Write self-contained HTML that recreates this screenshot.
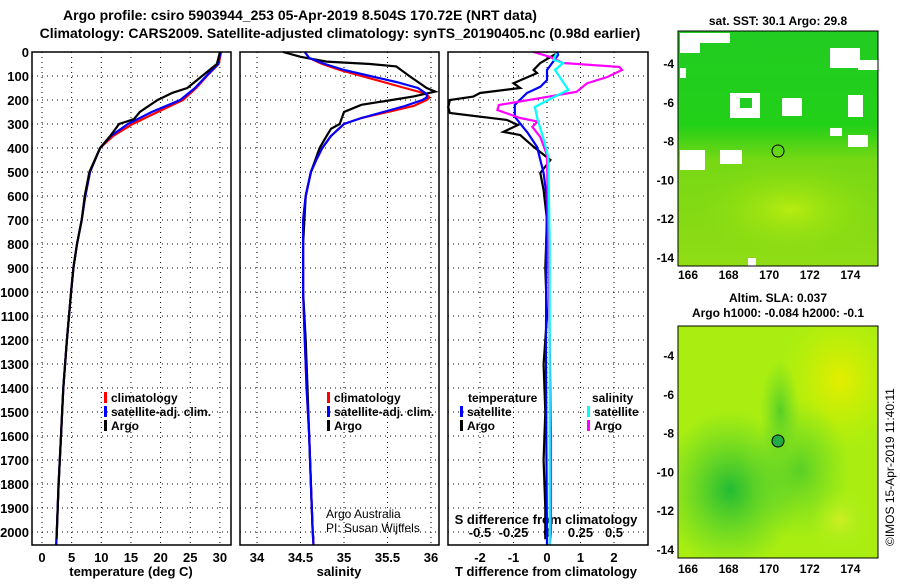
<!DOCTYPE html>
<html><head><meta charset="utf-8"><style>
body{margin:0;background:#fff;}
svg text{font-family:"Liberation Sans",sans-serif;font-weight:bold;fill:#000;}
</style></head><body>
<svg id="c" width="900" height="580" xmlns="http://www.w3.org/2000/svg">
<defs>
<clipPath id="clip1"><rect x="678" y="31" width="200" height="235"/></clipPath>
<clipPath id="clip2"><rect x="678" y="326" width="200" height="232"/></clipPath>
<radialGradient id="sst1" cx="0.5" cy="0.5" r="0.5"><stop offset="0" stop-color="#b8ec10"/><stop offset="1" stop-color="#88dd10" stop-opacity="0"/></radialGradient>
<linearGradient id="sstbg" x1="0" y1="0" x2="0" y2="1"><stop offset="0" stop-color="#22cc22"/><stop offset="0.4" stop-color="#22d018"/><stop offset="0.55" stop-color="#77d814"/><stop offset="1" stop-color="#90dc15"/></linearGradient>
<radialGradient id="sla1" cx="0.5" cy="0.5" r="0.5"><stop offset="0" stop-color="#e4ee00"/><stop offset="1" stop-color="#ccf000" stop-opacity="0"/></radialGradient>
<radialGradient id="sla2" cx="0.5" cy="0.5" r="0.5"><stop offset="0" stop-color="#22bb33"/><stop offset="1" stop-color="#44cc33" stop-opacity="0"/></radialGradient>
<radialGradient id="sla3" cx="0.5" cy="0.5" r="0.5"><stop offset="0" stop-color="#ccee22"/><stop offset="1" stop-color="#aaee22" stop-opacity="0"/></radialGradient>
</defs>
<text x="300" y="20" font-size="14" text-anchor="middle">Argo profile: csiro 5903944_253 05-Apr-2019 8.504S 170.72E (NRT data)</text>
<text x="340" y="38" font-size="14" text-anchor="middle">Climatology: CARS2009. Satellite-adjusted climatology: synTS_20190405.nc (0.98d earlier)</text>
<g id="g"></g>
<g>
<text x="778" y="25" font-size="12" text-anchor="middle">sat. SST: 30.1 Argo: 29.8</text>
<g clip-path="url(#clip1)">
<rect x="678" y="31" width="200" height="235" fill="url(#sstbg)"/>
<ellipse cx="790" cy="210" rx="95" ry="50" fill="url(#sst1)"/>
<g fill="#fff">
<rect x="680" y="33" width="50" height="10"/><rect x="680" y="43" width="20" height="10"/><rect x="680" y="68" width="6" height="10"/>
<rect x="730" y="93" width="30" height="25"/><rect x="740" y="98" width="12" height="10" fill="#22cc22"/>
<rect x="782" y="98" width="20" height="18"/><rect x="830" y="48" width="30" height="20"/><rect x="858" y="60" width="20" height="10"/>
<rect x="848" y="95" width="15" height="22"/><rect x="680" y="150" width="25" height="20"/><rect x="720" y="150" width="22" height="14"/>
<rect x="848" y="135" width="20" height="12"/><rect x="830" y="128" width="12" height="8"/><rect x="748" y="258" width="8" height="8"/>
</g>
</g>
<circle cx="778" cy="151" r="6" fill="none" stroke="#000" stroke-width="1"/>
<rect x="678" y="31" width="200" height="235" fill="none" stroke="#000"/>
</g>
<g>
<text x="778" y="302" font-size="12" text-anchor="middle">Altim. SLA: 0.037</text>
<text x="778" y="317" font-size="12" text-anchor="middle">Argo h1000: -0.084 h2000: -0.1</text>
<g clip-path="url(#clip2)">
<rect x="678" y="326" width="200" height="232" fill="#aaee11"/>
<ellipse cx="840" cy="380" rx="60" ry="70" fill="url(#sla1)"/>
<ellipse cx="730" cy="490" rx="70" ry="80" fill="url(#sla2)"/>
<ellipse cx="800" cy="470" rx="50" ry="70" fill="url(#sla2)" opacity="0.6"/>
<ellipse cx="780" cy="410" rx="20" ry="50" fill="url(#sla2)" opacity="0.6"/>
<ellipse cx="840" cy="520" rx="30" ry="30" fill="url(#sla3)"/>
</g>
<circle cx="778" cy="441" r="6" fill="#22aa44" stroke="#000" stroke-width="1"/>
<rect x="678" y="326" width="200" height="232" fill="none" stroke="#000"/>
</g>
<text transform="translate(894,546) rotate(-90)" font-size="12" style="font-weight:normal">©IMOS 15-Apr-2019 11:40:11</text>
</svg>
<script>
// ---- data ----
const tempClimDepth=[0,50,100,150,200,250,300,350,400,500,600,700,800,900,1000,1200,1400,1600,1800,2000,2054];
const tempClim=[30.2,29.8,27.8,26,23.8,19.5,15.3,12,9.8,8.1,7.3,6.7,5.9,5.3,4.9,4.2,3.6,3.2,2.8,2.5,2.4];
const tempSat=[30.1,29.7,27.7,25.8,23.3,18.5,14.5,11.6,9.8,8.1,7.3,6.7,5.9,5.3,4.9,4.2,3.6,3.2,2.8,2.5,2.4];
const tempArgoDepth=[0,50,100,150,170,200,250,280,300,350,400,500,600,700,800,900,1000,1200,1400,1600,1800,2000,2030];
const tempArgo=[30,29.5,27,24.5,22,19.5,16.5,15.5,13,11.5,9.8,8,7.2,6.7,5.9,5.3,4.9,4.2,3.6,3.2,2.8,2.5,2.45];
const salClimDepth=[0,25,50,75,100,125,150,175,190,200,225,250,275,300,350,400,450,500,600,700,800,1000,1200,1400,1600,1800,2000,2054];
const salClim=[34.55,34.6,34.75,34.95,35.2,35.45,35.7,35.95,35.98,35.95,35.8,35.5,35.2,35.0,34.85,34.75,34.68,34.62,34.56,34.53,34.53,34.53,34.55,34.57,34.6,34.62,34.64,34.65];
const salSat=[34.55,34.6,34.78,35.0,35.3,35.6,35.85,35.95,35.95,35.9,35.7,35.45,35.2,35.0,34.85,34.75,34.68,34.62,34.56,34.53,34.53,34.53,34.55,34.57,34.6,34.62,34.64,34.65];
const salArgoDepth=[0,20,40,50,60,100,150,165,185,200,220,250,300,320,350,400,450,500,600,800,1000,1200,1400,1600,1800,2000,2030];
const salArgo=[34.3,34.5,34.8,35.3,35.6,35.75,35.95,36.05,35.8,35.55,35.2,35.0,34.95,34.85,34.8,34.72,34.67,34.62,34.56,34.53,34.53,34.56,34.58,34.6,34.62,34.64,34.65];
const dTSatDepth=[0,12,75,117,145,171,221,270,338,395,504,615,800,1200,1600,2054];
const dTSat=[0.3,0.33,0,0,-0.2,-0.6,-0.96,-0.96,-0.57,-0.3,-0.1,0,-0.02,-0.03,-0.02,0];
const dTArgoDepth=[5,46,75,88,130,150,171,186,200,230,254,283,304,333,346,395,450,504,575,700,900,1100,1300,1500,1700,1900,2030];
const dTArgo=[0.3,-0.2,-0.4,-0.3,-1.0,-0.8,-2.0,-2.2,-2.9,-2.95,-2.9,-1.2,-0.87,-1.3,-0.8,-0.4,0.1,-0.2,-0.1,0,-0.05,0,-0.1,-0.05,-0.1,-0.05,-0.05];
const dSArgoDepth=[0,20,46,62,75,104,130,166,192,221,242,275,290,312,354,429,800,1200,1600,2000,2054];
const dSArgo=[-0.1,0.02,0.12,0.54,0.56,0.45,0.3,0.22,-0.05,-0.36,-0.37,-0.2,-0.07,-0.11,-0.05,0,0.01,0.02,0.03,0.03,0.02];
const dSSatDepth=[5,33,46,75,158,188,229,283,354,437,800,1200,1600,2054];
const dSSat=[0.07,0.05,0.12,0.06,0.16,0.05,-0.09,-0.07,-0.03,0.01,0.02,0.02,0.02,0.02];
const depthTicks=[0,100,200,300,400,500,600,700,800,900,1000,1100,1200,1300,1400,1500,1600,1700,1800,1900,2000];
const tempTicks=[0,5,10,15,20,25,30];
const salTicks=[34,34.5,35,35.5,36];
const dTTicks=[-2,-1,0,1,2];
const dSTickVals=[-0.5,-0.25,0,0.25,0.5];
const dSTickLabels=["-0.5","-0.25","0","0.25","0.5"];
const lonTicks=[166,168,170,172,174];
const latTicks=[-4,-6,-8,-10,-12,-14];

const NS='http://www.w3.org/2000/svg';
const G=document.getElementById('g');
function el(t,a,p){const e=document.createElementNS(NS,t);for(const k in a)e.setAttribute(k,a[k]);(p||G).appendChild(e);return e;}
const Y0=52,YS=0.24,YB=545;
const yD=d=>Y0+d*YS;
const xT=v=>42+v*5.93;
const xS=v=>257+(v-34)*87;
const xDT=v=>547+v*33.5;
const xDS=v=>547+v*134;
const panels=[[32,231],[240,439],[448,648]];

function grid(x0,x1,vals,fx){
  depthTicks.forEach(d=>{const l=el('line',{x1:x0,x2:x1,y1:yD(d),y2:yD(d),stroke:'#000','stroke-dasharray':'1 4'});
    
    });
  vals.forEach(v=>{const l=el('line',{x1:fx(v),x2:fx(v),y1:Y0,y2:YB,stroke:'#000','stroke-dasharray':'1 4'});
    
    });
}
function line(depths,vals,fx,color,name){
  const pts=depths.map((d,i)=>fx(vals[i]).toFixed(1)+','+yD(d).toFixed(1)).join(' ');
  const p=el('polyline',{points:pts,fill:'none',stroke:color,'stroke-width':2.2});
  
  
}
function txt(x,y,s,size,anchor,name){const t=el('text',{x:x,y:y,'font-size':size,'text-anchor':anchor||'start'});t.textContent=s;
  
  return t;}

grid(32,231,tempTicks,xT);grid(240,439,salTicks,xS);grid(448,648,dTTicks,xDT);
depthTicks.forEach(d=>txt(29,yD(d)+5,String(d),13,'end','depth-tick-label'));
tempTicks.forEach(v=>txt(xT(v),562,String(v),13,'middle','temperature-tick-label'));
salTicks.forEach(v=>txt(xS(v),562,String(v),13,'middle','salinity-tick-label'));
dTTicks.forEach(v=>txt(xDT(v),562,String(v),13,'middle','tdiff-tick-label'));
dSTickVals.forEach((v,i)=>txt(xDS(v),537,dSTickLabels[i],13,'middle','sdiff-tick-label'));
txt(131,576,'temperature (deg C)',13,'middle','temperature-axis-title');
txt(339,576,'salinity',13,'middle','salinity-axis-title');
txt(546,576,'T difference from climatology',13,'middle','tdiff-axis-title');
txt(546,524,'S difference from climatology',13,'middle','sdiff-axis-title');

line(tempClimDepth,tempClim,xT,'#f00','temperature-climatology-line');
line(tempClimDepth,tempSat,xT,'#00f','temperature-satellite-line');
line(tempArgoDepth,tempArgo,xT,'#000','temperature-argo-line');
line(salClimDepth,salClim,xS,'#f00','salinity-climatology-line');
line(salArgoDepth,salArgo,xS,'#000','salinity-argo-line');
line(salClimDepth,salSat,xS,'#00f','salinity-satellite-line');
line(dTArgoDepth,dTArgo,xDT,'#000','tdiff-argo-line');
line(dTSatDepth,dTSat,xDT,'#00f','tdiff-satellite-line');
line(dSArgoDepth,dSArgo,xDS,'#f0f','sdiff-argo-line');
line(dSSatDepth,dSSat,xDS,'#0ff','sdiff-satellite-line');

panels.forEach(p=>{const r=el('rect',{x:p[0],y:Y0,width:p[1]-p[0],height:YB-Y0,fill:'none',stroke:'#000','stroke-width':1.5});
  
  });

function legend(x,y,items,name){items.forEach((it,i)=>{
  const yy=y+i*14;
  const r=el('rect',{x:x,y:yy-10,width:3,height:11,fill:it[1]});
  
  
  const t=el('text',{x:x+7,y:yy,'font-size':12});t.textContent=it[0];
  
  });}
legend(104,402,[['climatology','#f00'],['satellite-adj. clim.','#00f'],['Argo','#000']],'temperature-legend');
legend(327,402,[['climatology','#f00'],['satellite-adj. clim.','#00f'],['Argo','#000']],'salinity-legend');
txt(468,402,'temperature',12,'start','tdiff-legend-header');
legend(460,416,[['satellite','#00f'],['Argo','#000']],'tdiff-legend');
txt(592,402,'salinity',12,'start','sdiff-legend-header');
legend(587,416,[['satellite','#0ff'],['Argo','#f0f']],'sdiff-legend');
const a1=txt(326,518,'Argo Australia',12,'start','credit-argo-australia');a1.style.fontWeight='normal';
const a2=txt(326,532,'PI: Susan Wijffels',12,'start','credit-pi');a2.style.fontWeight='normal';

const lonX=v=>688+(v-166)*20.3;
[[63,257,266],[355,549,558]].forEach((m,k)=>{
  const latY=v=>m[0]+(-4-v)*(m[1]-m[0])/10;
  lonTicks.forEach(v=>{txt(lonX(v),k?573:279,String(v),12,'middle','longitude-tick-label');
    const t=el('line',{x1:lonX(v),x2:lonX(v),y1:m[2]-4,y2:m[2],stroke:'#000'});
    
    });
  latTicks.forEach(v=>{txt(674,latY(v)+5,String(v),12,'end','latitude-tick-label');
    const t=el('line',{x1:874,x2:878,y1:latY(v),y2:latY(v),stroke:'#000'});
    
    });
});
</script>
</body></html>
